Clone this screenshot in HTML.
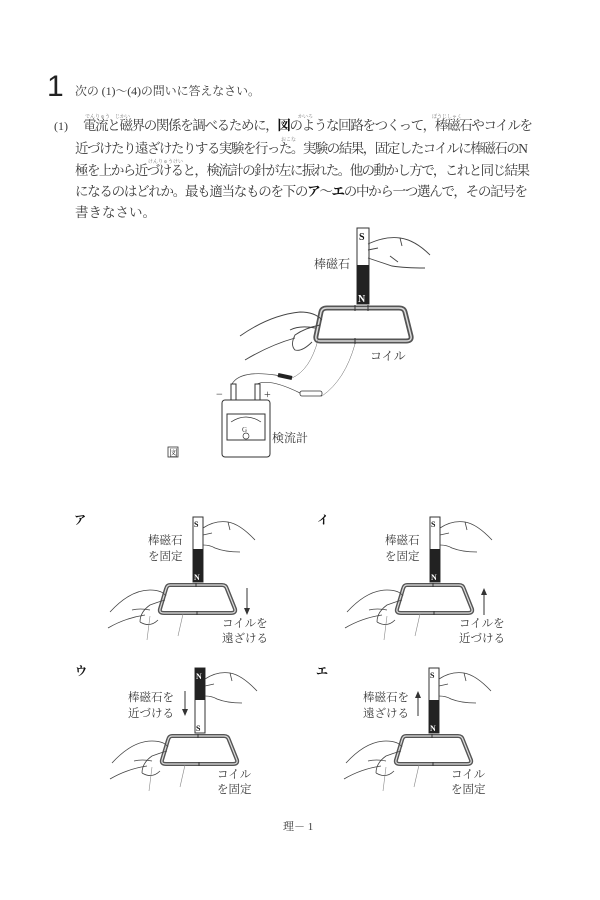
<!DOCTYPE html>
<html><head><meta charset="utf-8"><style>
html,body{margin:0;padding:0;background:#fff;}
svg{display:block;}
text{font-family:"Liberation Serif","Noto Serif CJK SC",serif;fill:#3a3a3a;}
.b{font-weight:bold;fill:#111;}
.r{font-size:5px;fill:#777;}
</style></head><body>
<svg width="600" height="900" viewBox="0 0 600 900" xmlns="http://www.w3.org/2000/svg">
<defs>
  <g id="coilS">
    <path d="M170,585 L222,585 Q226,585 227,589 L235,609 Q236,613 231,613 L164,613 Q159,613 160,609 L166,589 Q167,585 170,585 Z" fill="none" stroke="#555" stroke-width="4"/>
    <path d="M170,585 L222,585 Q226,585 227,589 L235,609 Q236,613 231,613 L164,613 Q159,613 160,609 L166,589 Q167,585 170,585 Z" fill="none" stroke="#ddd" stroke-width="1.2"/>
    <line x1="196" y1="583" x2="196" y2="587" stroke="#333"/>
    <line x1="197" y1="611" x2="197" y2="615" stroke="#333"/>
    <path d="M110,612 Q130,590 150,590 Q162,590 166,596 M108,628 Q125,618 145,615 M165,600 Q158,602 150,605 Q140,612 140,622 M140,622 Q150,628 158,620 M132,610 Q140,608 150,610" fill="none" stroke="#444" stroke-width="0.8"/>
    <path d="M150,616 L147,640 M183,614 L178,636" fill="none" stroke="#888" stroke-width="0.6"/>
  </g>
  <g id="handS">
    <path d="M203,528 Q215,520 228,522 Q240,524 255,540 M203,535 L212,533 M203,545 Q210,545 215,548 Q225,552 240,552 M228,522 L230,530" fill="none" stroke="#444" stroke-width="0.8"/>
  </g>
</defs>

<text x="47" y="96" style="font-family:'Liberation Sans',sans-serif;font-size:30px;fill:#222">1</text>
<text x="75" y="95" font-size="12" textLength="185">次の (1)～(4)の問いに答えなさい。</text>

<text x="54" y="130" font-size="12">(1)</text>
<text x="83" y="130" font-size="13.5" textLength="450">電流と磁界の関係を調べるために，<tspan class="b">図</tspan>のような回路をつくって，棒磁石やコイルを</text>
<text x="75" y="153" font-size="13.5" textLength="453">近づけたり遠ざけたりする実験を行った。実験の結果，固定したコイルに棒磁石のN</text>
<text x="75" y="175" font-size="13.5" textLength="455">極を上から近づけると，検流計の針が左に振れた。他の動かし方で，これと同じ結果</text>
<text x="75" y="196" font-size="13.5" textLength="453">になるのはどれか。最も適当なものを下の<tspan class="b">ア</tspan>～<tspan class="b">エ</tspan>の中から一つ選んで，その記号を</text>
<text x="75" y="217" font-size="13.5">書きなさい。</text>
<text class="r" x="85" y="118">でんりゅう　じかい</text>
<text class="r" x="298" y="118">かいろ</text>
<text class="r" x="432" y="118">ぼうじしゃく</text>
<text class="r" x="281" y="141">おこな</text>
<text class="r" x="148" y="163">けんりゅうけい</text>

<rect x="357" y="228" width="12" height="76" fill="#fff" stroke="#333" stroke-width="1"/>
<rect x="357" y="265" width="12" height="39" fill="#222"/>
<text x="359" y="240" class="b" font-size="10">S</text>
<text x="358" y="302" font-size="10" style="font-weight:bold;fill:#fff">N</text>
<text x="314" y="268" font-size="12">棒磁石</text>
<path d="M368,244 Q385,236 400,238 Q415,240 430,255 M368,250 L378,248 M368,258 Q380,262 392,266 Q405,268 425,268 M400,238 L402,246 M390,256 L398,262" fill="none" stroke="#444" stroke-width="0.9"/>
<path d="M327,308 L399,308 Q404,308 405,312 L411,336 Q412,341 406,341 L320,341 Q315,341 316,336 L321,312 Q322,308 327,308 Z" fill="none" stroke="#555" stroke-width="5"/>
<path d="M327,308 L399,308 Q404,308 405,312 L411,336 Q412,341 406,341 L320,341 Q315,341 316,336 L321,312 Q322,308 327,308 Z" fill="none" stroke="#ddd" stroke-width="1.5"/>
<line x1="355" y1="305" x2="355" y2="311" stroke="#333"/><line x1="368" y1="305" x2="368" y2="311" stroke="#333"/>
<line x1="355" y1="338" x2="355" y2="344" stroke="#333"/>
<text x="370" y="360" font-size="12">コイル</text>
<path d="M240,336 Q270,315 300,312 Q315,312 322,320 M245,360 Q270,345 295,338 M320,325 Q305,328 295,335 Q290,345 295,350 Q302,352 312,342 M290,330 Q300,325 315,328" fill="none" stroke="#444" stroke-width="0.9"/>
<path d="M232,384 Q240,370 275,375 L292,378" fill="none" stroke="#444" stroke-width="0.7"/>
<path d="M278,375 L292,378" stroke="#222" stroke-width="4"/>
<path d="M292,378 Q310,370 318,340" fill="none" stroke="#666" stroke-width="0.5"/>
<path d="M257,384 Q270,378 300,393 L322,396" fill="none" stroke="#444" stroke-width="0.7"/>
<rect x="300" y="391" width="22" height="5" rx="2" fill="#fff" stroke="#333" stroke-width="0.8"/>
<path d="M322,396 Q345,380 355,344" fill="none" stroke="#666" stroke-width="0.5"/>
<rect x="231" y="384" width="5" height="16" fill="#fff" stroke="#333"/>
<rect x="255" y="384" width="5" height="16" fill="#fff" stroke="#333"/>
<rect x="222" y="400" width="48" height="57" rx="3" fill="#fff" stroke="#333"/>
<rect x="227" y="414" width="38" height="26" fill="#fff" stroke="#333"/>
<path d="M231,422 Q246,412 261,422" fill="none" stroke="#333" stroke-width="0.7"/>
<text x="242" y="432" font-size="7">G</text>
<circle cx="246" cy="436" r="3" fill="none" stroke="#333" stroke-width="0.7"/>
<text x="216" y="398" font-size="12">−</text>
<text x="264" y="398" font-size="12">+</text>
<text x="272" y="442" font-size="12">検流計</text>
<rect x="168" y="447" width="10" height="10" fill="none" stroke="#333" stroke-width="0.8"/>
<text x="169" y="456" font-size="9">図</text>

<text x="74" y="524" class="b" font-size="12">ア</text>
<rect x="193" y="517" width="10" height="65" fill="#fff" stroke="#333"/>
<rect x="193" y="549" width="10" height="33" fill="#222"/>
<text x="194" y="527" class="b" font-size="8">S</text>
<text x="194" y="580" font-size="8" style="font-weight:bold;fill:#fff">N</text>
<text x="148" y="544" font-size="11.5">棒磁石</text>
<text x="148" y="560" font-size="11.5">を固定</text>
<use href="#handS"/>
<use href="#coilS"/>
<line x1="247" y1="588" x2="247" y2="613" stroke="#333"/><path d="M244,608 L247,615 L250,608" fill="#333"/>
<text x="222" y="627" font-size="11.5">コイルを</text>
<text x="222" y="642" font-size="11.5">遠ざける</text>

<g transform="translate(237,0)">
<text x="80" y="524" class="b" font-size="12">イ</text>
<rect x="193" y="517" width="10" height="65" fill="#fff" stroke="#333"/>
<rect x="193" y="549" width="10" height="33" fill="#222"/>
<text x="194" y="527" class="b" font-size="8">S</text>
<text x="194" y="580" font-size="8" style="font-weight:bold;fill:#fff">N</text>
<text x="148" y="544" font-size="11.5">棒磁石</text>
<text x="148" y="560" font-size="11.5">を固定</text>
<use href="#handS"/>
<use href="#coilS"/>
<line x1="247" y1="590" x2="247" y2="615" stroke="#333"/><path d="M244,595 L247,588 L250,595" fill="#333"/>
<text x="222" y="627" font-size="11.5">コイルを</text>
<text x="222" y="642" font-size="11.5">近づける</text>
</g>

<g transform="translate(2,151)">
<text x="73" y="524" class="b" font-size="12">ウ</text>
<rect x="193" y="517" width="10" height="65" fill="#fff" stroke="#333"/>
<rect x="193" y="517" width="10" height="32" fill="#222"/>
<text x="194" y="528" font-size="8" style="font-weight:bold;fill:#fff">N</text>
<text x="194" y="580" class="b" font-size="8">S</text>
<text x="126" y="550" font-size="11.5">棒磁石を</text>
<text x="126" y="566" font-size="11.5">近づける</text>
<line x1="183" y1="540" x2="183" y2="563" stroke="#333"/><path d="M180,558 L183,565 L186,558" fill="#333"/>
<use href="#handS"/>
<use href="#coilS"/>
<text x="215" y="627" font-size="11.5">コイル</text>
<text x="215" y="642" font-size="11.5">を固定</text>
</g>

<g transform="translate(236,151)">
<text x="80" y="524" class="b" font-size="12">エ</text>
<rect x="193" y="517" width="10" height="65" fill="#fff" stroke="#333"/>
<rect x="193" y="549" width="10" height="33" fill="#222"/>
<text x="194" y="527" class="b" font-size="8">S</text>
<text x="194" y="580" font-size="8" style="font-weight:bold;fill:#fff">N</text>
<text x="127" y="550" font-size="11.5">棒磁石を</text>
<text x="127" y="566" font-size="11.5">遠ざける</text>
<line x1="182" y1="542" x2="182" y2="565" stroke="#333"/><path d="M179,547 L182,540 L185,547" fill="#333"/>
<use href="#handS"/>
<use href="#coilS"/>
<text x="215" y="627" font-size="11.5">コイル</text>
<text x="215" y="642" font-size="11.5">を固定</text>
</g>

<text x="283" y="830" font-size="11">理－ 1</text>
</svg>
</body></html>
